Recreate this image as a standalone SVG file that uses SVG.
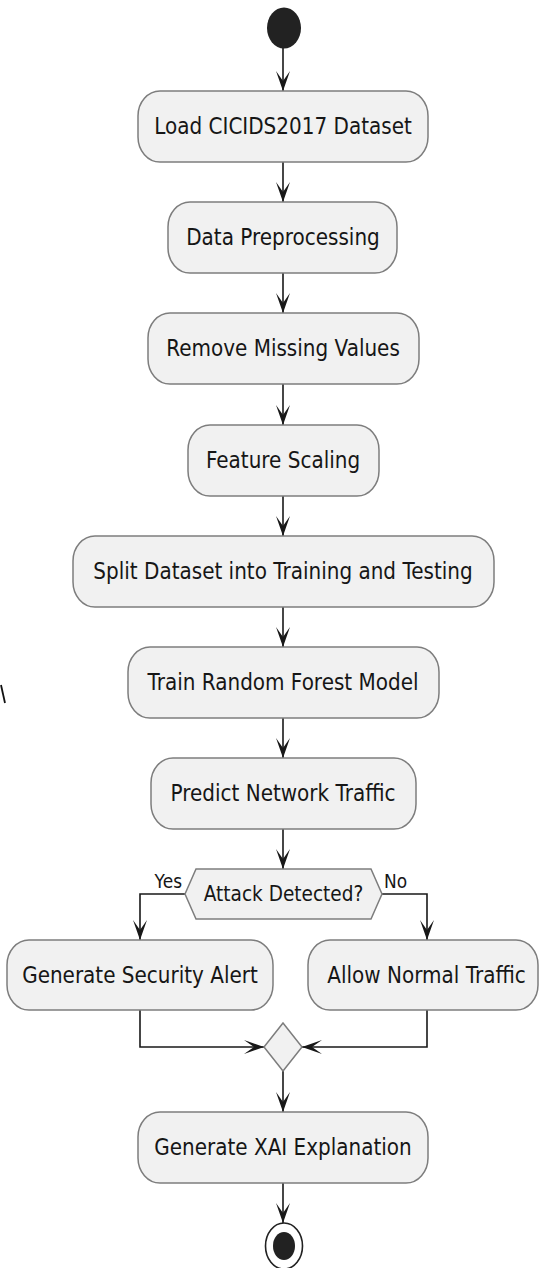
<svg xmlns="http://www.w3.org/2000/svg" width="540" height="1268" viewBox="0 0 540 1268">
  <defs>
    <style>
      .act { fill: #F1F1F1; stroke: #7d7d7d; stroke-width: 1.5; }
      .lbl { font-family: "DejaVu Sans", "Liberation Sans", sans-serif; font-size: 20px; fill: #161616; text-anchor: middle; }
      .guard { font-family: "DejaVu Sans", "Liberation Sans", sans-serif; font-size: 17px; fill: #161616; }
      .flow { fill: none; stroke: #181818; stroke-width: 1.6; }
    </style>
    <marker id="arrow" viewBox="-21 -8 22 16" refX="0" refY="0" markerWidth="22" markerHeight="16" markerUnits="userSpaceOnUse" orient="auto">
      <path d="M0,0 L-20,-7 L-10,0 L-20,7 Z" fill="#181818"/>
    </marker>
  </defs>

  <rect width="540" height="1268" fill="#FFFFFF"/>

  <!-- stray stroke at the left margin -->
  <line x1="1" y1="685" x2="5" y2="703" stroke="#111" stroke-width="1.8"/>

  <!-- connectors -->
  <g id="connectors">
    <path class="flow" d="M283,48 V91" marker-end="url(#arrow)"/>
    <path class="flow" d="M283,162 V202" marker-end="url(#arrow)"/>
    <path class="flow" d="M283,273 V313" marker-end="url(#arrow)"/>
    <path class="flow" d="M283,384 V425" marker-end="url(#arrow)"/>
    <path class="flow" d="M283,496 V536" marker-end="url(#arrow)"/>
    <path class="flow" d="M283,607 V647" marker-end="url(#arrow)"/>
    <path class="flow" d="M283,718 V758" marker-end="url(#arrow)"/>
    <path class="flow" d="M283,829 V869" marker-end="url(#arrow)"/>
    <path class="flow" d="M185,894 H140 V940" marker-end="url(#arrow)"/>
    <path class="flow" d="M382,894 H427 V940" marker-end="url(#arrow)"/>
    <path class="flow" d="M140,1010 V1047 H264" marker-end="url(#arrow)"/>
    <path class="flow" d="M427,1010 V1047 H302" marker-end="url(#arrow)"/>
    <path class="flow" d="M283,1071 V1112" marker-end="url(#arrow)"/>
    <path class="flow" d="M283,1183 V1223" marker-end="url(#arrow)"/>
    <text class="guard" text-anchor="end" transform="translate(182,888) scale(1,1.16)">Yes</text>
    <text class="guard" text-anchor="start" transform="translate(384,888) scale(1,1.16)">No</text>
  </g>

  <g id="start">
    <ellipse cx="284" cy="28" rx="17" ry="20.5" fill="#222222"/>
  </g>

  <g id="load">
    <rect class="act" x="138" y="91" width="290" height="71" rx="22" ry="25"/>
    <text class="lbl" transform="translate(283,134) scale(1,1.16)">Load CICIDS2017 Dataset</text>
  </g>

  <g id="preprocess">
    <rect class="act" x="168" y="202" width="229" height="71" rx="22" ry="25"/>
    <text class="lbl" transform="translate(283,245) scale(1,1.16)">Data Preprocessing</text>
  </g>

  <g id="missing">
    <rect class="act" x="148" y="313" width="271" height="71" rx="22" ry="25"/>
    <text class="lbl" transform="translate(283,356) scale(1,1.16)">Remove Missing Values</text>
  </g>

  <g id="scaling">
    <rect class="act" x="188" y="425" width="191" height="71" rx="22" ry="25"/>
    <text class="lbl" transform="translate(283,468) scale(1,1.16)">Feature Scaling</text>
  </g>

  <g id="split">
    <rect class="act" x="73" y="536" width="421" height="71" rx="22" ry="25"/>
    <text class="lbl" transform="translate(283,579) scale(1,1.16)">Split Dataset into Training and Testing</text>
  </g>

  <g id="train">
    <rect class="act" x="128" y="647" width="311" height="71" rx="22" ry="25"/>
    <text class="lbl" transform="translate(283,690) scale(1,1.16)">Train Random Forest Model</text>
  </g>

  <g id="predict">
    <rect class="act" x="151" y="758" width="265" height="71" rx="22" ry="25"/>
    <text class="lbl" transform="translate(283,801) scale(1,1.16)">Predict Network Traffic</text>
  </g>

  <g id="decision">
    <polygon class="act" points="185,894 196,869 371,869 382,894 371,919 196,919"/>
    <text class="lbl" style="font-size:18.5px" transform="translate(283.5,901) scale(1,1.16)">Attack Detected?</text>
  </g>

  <g id="alert">
    <rect class="act" x="7" y="940" width="266" height="70" rx="22" ry="25"/>
    <text class="lbl" transform="translate(140,983) scale(1,1.16)">Generate Security Alert</text>
  </g>

  <g id="allow">
    <rect class="act" x="308" y="940" width="230" height="70" rx="22" ry="25"/>
    <text class="lbl" transform="translate(426.5,983) scale(1,1.16)">Allow Normal Traffic</text>
  </g>

  <g id="merge">
    <polygon class="act" points="283,1023 302,1047 283,1071 264,1047"/>
  </g>

  <g id="explain">
    <rect class="act" x="138" y="1112" width="290" height="71" rx="22" ry="25"/>
    <text class="lbl" transform="translate(283,1155) scale(1,1.16)">Generate XAI Explanation</text>
  </g>

  <g id="end">
    <ellipse cx="284" cy="1246" rx="18.5" ry="23" fill="#FFFFFF" stroke="#222222" stroke-width="1.6"/>
    <ellipse cx="284" cy="1246" rx="11" ry="14" fill="#222222"/>
  </g>
</svg>
